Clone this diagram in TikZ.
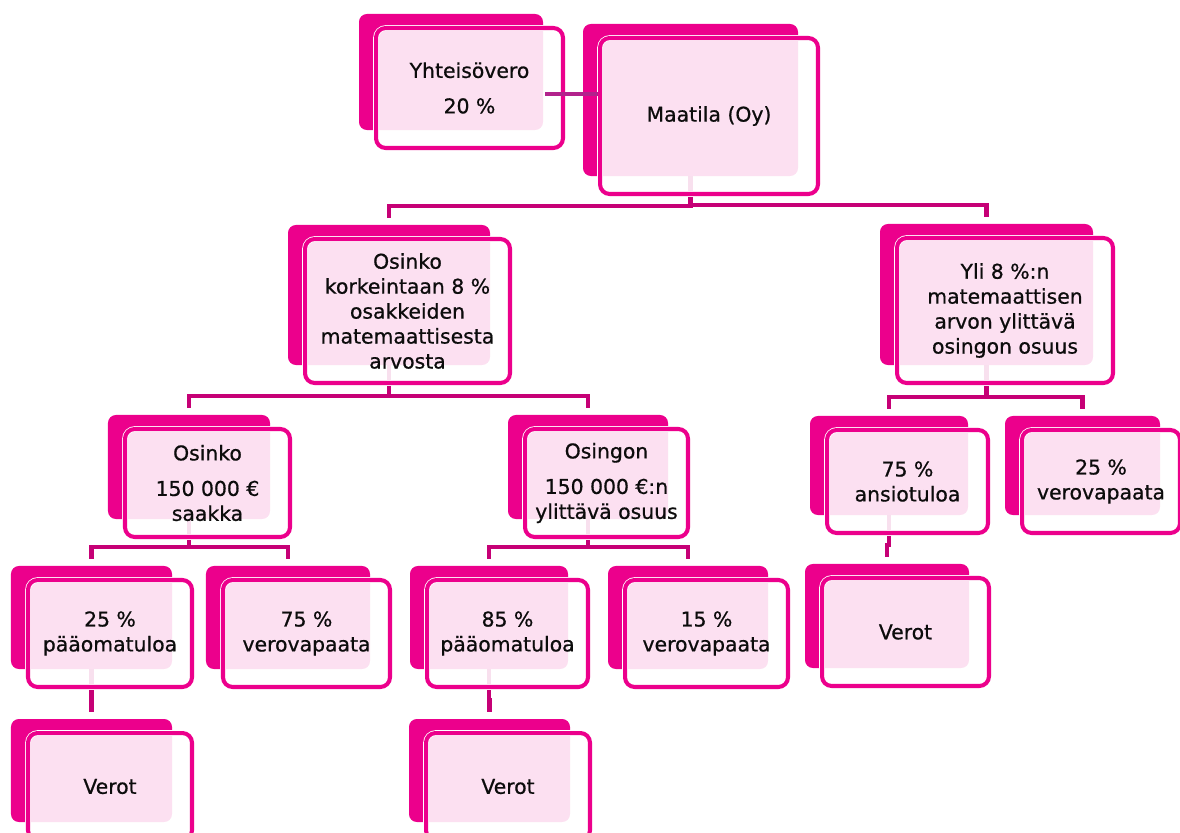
\documentclass[tikz,border=0pt]{standalone}
\usepackage{fontspec}
\setmainfont{DejaVu Sans}[RawFeature={embolden=0.7}]
\usetikzlibrary{fit}

\definecolor{boxMagenta}{RGB}{236,0,140}
\definecolor{linkMagenta}{RGB}{198,0,118}
\definecolor{linkPurple}{RGB}{178,34,140}
\definecolor{boxText}{RGB}{12,12,12}

\pgfdeclarelayer{bg}
\pgfdeclarelayer{mid}
\pgfsetlayers{bg,mid,main}

\begin{document}
\begin{tikzpicture}[x=0.02cm, y=-0.02cm,
  front/.style={rectangle, rounded corners=5.5pt, draw=boxMagenta,
      line width=2.3pt, fill=white, fill opacity=0.88, text opacity=1,
      text=boxText, align=center, inner sep=0pt,
      font=\fontsize{11.6}{14.2}\selectfont,
      preaction={draw=white, line width=3.2pt}},
  back/.style={rectangle, rounded corners=4.5pt, fill=boxMagenta,
      inner sep=0pt},
  link/.style={draw=linkMagenta, line width=2.3pt}]

\useasboundingbox (0, 0) rectangle (1180, 832);

\node[front, minimum width=3.74cm, minimum height=2.40cm]
(yht) at (469.5, 88) {Yhteisövero\\[6pt]20 \%};

\node[front, minimum width=4.36cm, minimum height=3.12cm]
(maatila) at (709, 116) {Maatila (Oy)};

\node[front, minimum width=4.10cm, minimum height=2.88cm]
(osinko8) at (407.5, 311) {Osinko\\korkeintaan 8 \%\\osakkeiden\\matemaattisesta\\arvosta};

\node[front, minimum width=4.32cm, minimum height=2.90cm]
(yli8) at (1005, 310.5) {Yli 8 \%:n\\matemaattisen\\arvon ylittävä\\osingon osuus};

\node[front, minimum width=3.30cm, minimum height=2.16cm]
(osinko150) at (207.5, 483) {Osinko\\[6pt]150 000 €\\saakka};

\node[front, minimum width=3.26cm, minimum height=2.16cm]
(osingon150) at (606.5, 483) {Osingon\\[6pt]150 000 €:n\\ylittävä osuus};

\node[front, minimum width=3.22cm, minimum height=2.06cm]
(ansio75) at (907.5, 481.5) {75 \%\\ansiotuloa};

\node[front, minimum width=3.16cm, minimum height=2.06cm]
(vapaa25) at (1101, 481.5) {25 \%\\verovapaata};

\node[front, minimum width=3.28cm, minimum height=2.14cm]
(paa25) at (110, 633.5) {25 \%\\pääomatuloa};

\node[front, minimum width=3.34cm, minimum height=2.14cm]
(vapaa75) at (306.5, 633.5) {75 \%\\verovapaata};

\node[front, minimum width=3.22cm, minimum height=2.14cm]
(paa85) at (507.5, 633.5) {85 \%\\pääomatuloa};

\node[front, minimum width=3.26cm, minimum height=2.14cm]
(vapaa15) at (706.5, 633.5) {15 \%\\verovapaata};

\node[front, minimum width=3.34cm, minimum height=2.16cm]
(verot3) at (905.5, 632) {Verot};

\node[front, minimum width=3.28cm, minimum height=2.14cm]
(verot1) at (110, 786.5) {Verot};

\node[front, minimum width=3.28cm, minimum height=2.14cm]
(verot2) at (508, 786.5) {Verot};

\begin{pgfonlayer}{bg}
\foreach \n in {yht, maatila, osinko8, yli8, osinko150, osingon150,
    ansio75, vapaa25, paa25, vapaa75, paa85, vapaa15, verot3, verot1, verot2} {
  \coordinate (\n-nw) at ([shift={(-15,-12)}]\n.north west);
  \coordinate (\n-se) at ([shift={(-22,-20)}]\n.south east);
  \node[back, fit=(\n-nw)(\n-se)] (\n-b) {};
}
\end{pgfonlayer}

\begin{pgfonlayer}{mid}
\foreach \p/\c in {maatila/osinko8, maatila/yli8, osinko8/osinko150,
    osinko8/osingon150, yli8/ansio75, yli8/vapaa25, osinko150/paa25,
    osinko150/vapaa75, osingon150/paa85, osingon150/vapaa15,
    ansio75/verot3, paa25/verot1, paa85/verot2}
  \draw[link] (\p-b.south) |- ([shift={(0,-19)}]\c-b.north)
      -- ([shift={(0,-7)}]\c-b.north);
\end{pgfonlayer}

\coordinate (yht-link) at ([shift={(2,22)}]yht-b.east);
\draw[link, draw=linkPurple] (yht-link) -- (yht-link -| maatila.west);

\end{tikzpicture}
\end{document}
